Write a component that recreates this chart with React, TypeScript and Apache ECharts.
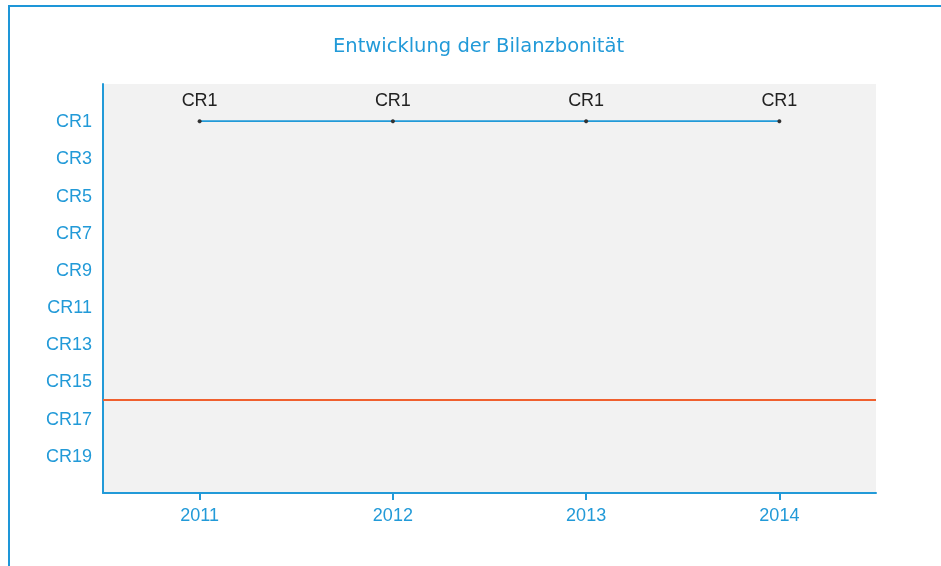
import React, { useEffect, useRef } from "react";
import * as echarts from "echarts";

const years = ["2011", "2012", "2013", "2014"];
const ratingValues = [1, 1, 1, 1];
const thresholdValue = 16;
const yMin = -1;
const yMax = 21;
const labeledRatings = [1, 3, 5, 7, 9, 11, 13, 15, 17, 19];
const titleText = "Entwicklung der Bilanzbonität";

const BLUE = "#229ad8";
const FONT = "Liberation Sans, Arial, sans-serif";

export default function App() {
  const ref = useRef<HTMLDivElement>(null);
  useEffect(() => {
    document.body.style.overflow = "hidden";
    const chart = echarts.init(ref.current!, null, { renderer: "svg" });
    chart.setOption({
      animation: false,
      title: {
        text: titleText,
        left: 333,
        top: 35,
        padding: 0,
        textStyle: { color: BLUE, fontSize: 19.5, fontWeight: "normal", fontFamily: "DejaVu Sans, sans-serif" },
      },
      grid: {
        left: 103,
        right: 65,
        top: 84,
        bottom: 73,
        show: true,
        backgroundColor: "#f2f2f2",
        borderWidth: 0,
      },
      xAxis: {
        type: "category",
        data: years,
        boundaryGap: true,
        axisLine: { onZero: false, lineStyle: { color: BLUE, width: 2 } },
        axisTick: { show: true, alignWithLabel: true, length: 7, lineStyle: { color: BLUE, width: 2 } },
        axisLabel: { color: BLUE, fontSize: 18, fontFamily: FONT, margin: 13 },
        splitLine: { show: false },
      },
      yAxis: {
        type: "value",
        inverse: true,
        min: yMin,
        max: yMax,
        interval: 1,
        axisLine: { show: true, onZero: false, lineStyle: { color: BLUE, width: 2 } },
        axisTick: { show: false },
        splitLine: { show: false },
        axisLabel: {
          color: BLUE,
          fontSize: 18,
          fontFamily: FONT,
          margin: 11,
          formatter: (v: number) => (labeledRatings.includes(v) ? "CR" + v : ""),
        },
      },
      series: [
        {
          type: "line",
          data: ratingValues,
          symbol: "circle",
          symbolSize: 4,
          itemStyle: { color: "#333" },
          lineStyle: { color: BLUE, width: 1.7 },
          label: {
            show: true,
            position: "top",
            distance: 10,
            color: "#222",
            fontSize: 18,
            fontFamily: FONT,
            formatter: (p: any) => "CR" + p.value,
          },
          markLine: {
            silent: true,
            symbol: "none",
            label: { show: false },
            lineStyle: { color: "#f0602e", width: 2, type: "solid" },
            data: [{ yAxis: thresholdValue }],
          },
        },
      ],
    });
    return () => chart.dispose();
  }, []);
  return (
    <>
      <div
        style={{
          position: "fixed",
          left: 8,
          top: 5,
          width: 1100,
          height: 800,
          border: "2px solid #1e96d8",
          pointerEvents: "none",
          boxSizing: "border-box",
        }}
      />
      <div ref={ref} style={{ position: "fixed", left: 0, top: 0, width: 941, height: 566 }} />
    </>
  );
}
